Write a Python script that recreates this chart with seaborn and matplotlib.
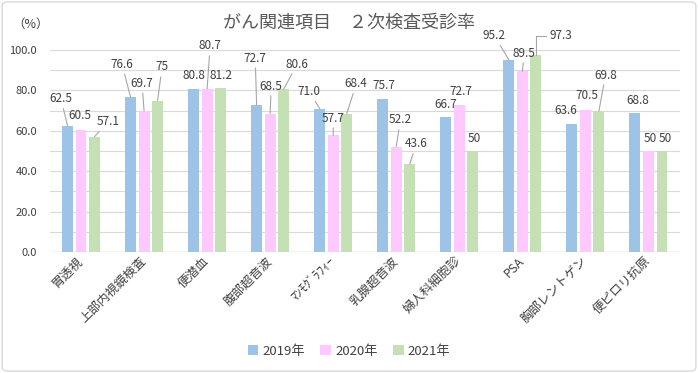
import numpy as np
import pandas as pd
import matplotlib
matplotlib.use("Agg")
import matplotlib.pyplot as plt
import seaborn as sns
from matplotlib.patches import FancyBboxPatch
from matplotlib.ticker import MultipleLocator, FormatStrFormatter

# ---- data ----
categories = ["胃透視", "上部内視鏡検査", "便潜血", "腹部超音波", "ﾏﾝﾓｸﾞﾗﾌｨｰ",
              "乳腺超音波", "婦人科細胞診", "PSA", "胸部レントゲン", "便ピロリ抗原"]
years = ["2019年", "2020年", "2021年"]
values_2019 = [62.5, 76.6, 80.8, 72.7, 71.0, 75.7, 66.7, 95.2, 63.6, 68.8]
values_2020 = [60.5, 69.7, 80.7, 68.5, 57.7, 52.2, 72.7, 89.5, 70.5, 50]
values_2021 = [57.1, 75, 81.2, 80.6, 68.4, 43.6, 50, 97.3, 69.8, 50]
labels_2019 = ["62.5", "76.6", "80.8", "72.7", "71.0", "75.7", "66.7", "95.2", "63.6", "68.8"]
labels_2020 = ["60.5", "69.7", "80.7", "68.5", "57.7", "52.2", "72.7", "89.5", "70.5", "50"]
labels_2021 = ["57.1", "75", "81.2", "80.6", "68.4", "43.6", "50", "97.3", "69.8", "50"]
yticks = [0, 20, 40, 60, 80, 100]

# ---- style: label offsets (pixels) and leader line styles ----
offsets_2019 = [(-6.5, 27), (-8.5, 33), (0, 13), (-1.5, 47), (-10.5, 17),
                (1.5, 14), (0, 13), (-14.5, 24), (-6.5, 13.5), (2.5, 13)]
offsets_2020 = [(-1, 14), (-2, 28), (3, 43), (1, 27.6), (0, 17.4),
                (4, 26.6), (2, 14), (2, 18), (2, 13.6), (2, 13)]
offsets_2021 = [(13.5, 15), (4.5, 33.5), (0, 12), (13.5, 25), (9.5, 30),
                (6.5, 20), (1.5, 13), (24.5, 19.5), (6.5, 36), (3.5, 13)]
leaders_2019 = ["l", "l", "", "l", "l", "", "", "l", "", ""]
leaders_2020 = ["", "l", "l", "l", "l", "l", "", "l", "", ""]
leaders_2021 = ["l", "l", "", "l", "l", "l", "", "e", "l", ""]
colors = ["#9DC3E6", "#FFC9FF", "#C5E0B4"]
text_color = "#404040"

df = pd.DataFrame({
    "category": categories * 3,
    "value": values_2019 + values_2020 + values_2021,
    "year": [years[0]] * 10 + [years[1]] * 10 + [years[2]] * 10,
})

sns.set_theme(style="white")
plt.rcParams["font.family"] = ["Noto Sans CJK JP", "DejaVu Sans"]

fig = plt.figure(figsize=(6.98, 3.73), dpi=100)
ax = fig.add_axes([49.5 / 698, 1 - 252 / 373, 630.5 / 698, 202 / 373])

sns.barplot(data=df, x="category", y="value", hue="year", palette=colors,
            saturation=1, width=0.643, gap=0.19, linewidth=0, ax=ax, legend=True)

ax.set_ylim(0, 100)
ax.set_xlim(-0.5, 9.5)
ax.yaxis.set_major_locator(MultipleLocator(20))
ax.yaxis.set_minor_locator(MultipleLocator(10))
ax.yaxis.set_major_formatter(FormatStrFormatter("%.1f"))
ax.set_yticks(yticks)
ax.grid(True, which="both", axis="y", color="#D9D9D9", lw=0.8)
ax.set_axisbelow(True)
for s in ax.spines.values():
    s.set_visible(False)
ax.axhline(0, color="#BFBFBF", lw=0.9, zorder=0.5)
ax.set_xlabel("")
ax.set_ylabel("")
ax.tick_params(axis="y", which="both", length=0, labelsize=8, labelcolor=text_color, pad=9)
ax.tick_params(axis="x", length=0, labelsize=9, labelcolor=text_color, pad=5)
for lab in ax.get_xticklabels():
    lab.set_rotation(45)
    lab.set_ha("right")
    lab.set_va("center")
    lab.set_rotation_mode("anchor")

all_labels = [labels_2019, labels_2020, labels_2021]
all_offsets = [offsets_2019, offsets_2020, offsets_2021]
all_leaders = [leaders_2019, leaders_2020, leaders_2021]
for j, cont in enumerate(ax.containers):
    for i, bar in enumerate(cont):
        x = bar.get_x() + bar.get_width() / 2
        y = bar.get_height()
        dx, dy = all_offsets[j][i]
        kind = all_leaders[j][i]
        kw = {}
        if kind == "l":
            kw["arrowprops"] = dict(arrowstyle="-", color="#A6A6A6", lw=0.8,
                                    shrinkA=0, shrinkB=0)
        elif kind == "e":
            kw["arrowprops"] = dict(arrowstyle="-", color="#A6A6A6", lw=0.8,
                                    shrinkA=0, shrinkB=0,
                                    connectionstyle="angle,angleA=0,angleB=90,rad=0")
        ax.annotate(all_labels[j][i], xy=(x, y), xytext=(dx, dy),
                    textcoords="offset pixels", ha="center", va="center",
                    fontsize=8.5, color=text_color, annotation_clip=False, **kw)

sns.move_legend(ax, "center", bbox_to_anchor=(349 / 698, 1 - 351 / 373),
                bbox_transform=fig.transFigure, ncol=3, frameon=False, title=None,
                fontsize=9.5, handlelength=0.8, handleheight=0.8,
                handletextpad=0.3, columnspacing=1.2, labelcolor=text_color)

fig.text(349 / 698, 1 - 23 / 373, "がん関連項目　２次検査受診率", ha="center",
         va="center", fontsize=13, color="#595959")
fig.text(31 / 698, 1 - 24 / 373, "（%）", ha="center", va="center",
         fontsize=9, color=text_color)

border = FancyBboxPatch((0.003, 0.005), 0.994, 0.99, boxstyle="round,pad=0,rounding_size=0.01",
                        transform=fig.transFigure, fill=False, edgecolor="#D9D9D9", lw=1)
fig.patches.append(border)

fig.savefig("out.png", dpi=100)
